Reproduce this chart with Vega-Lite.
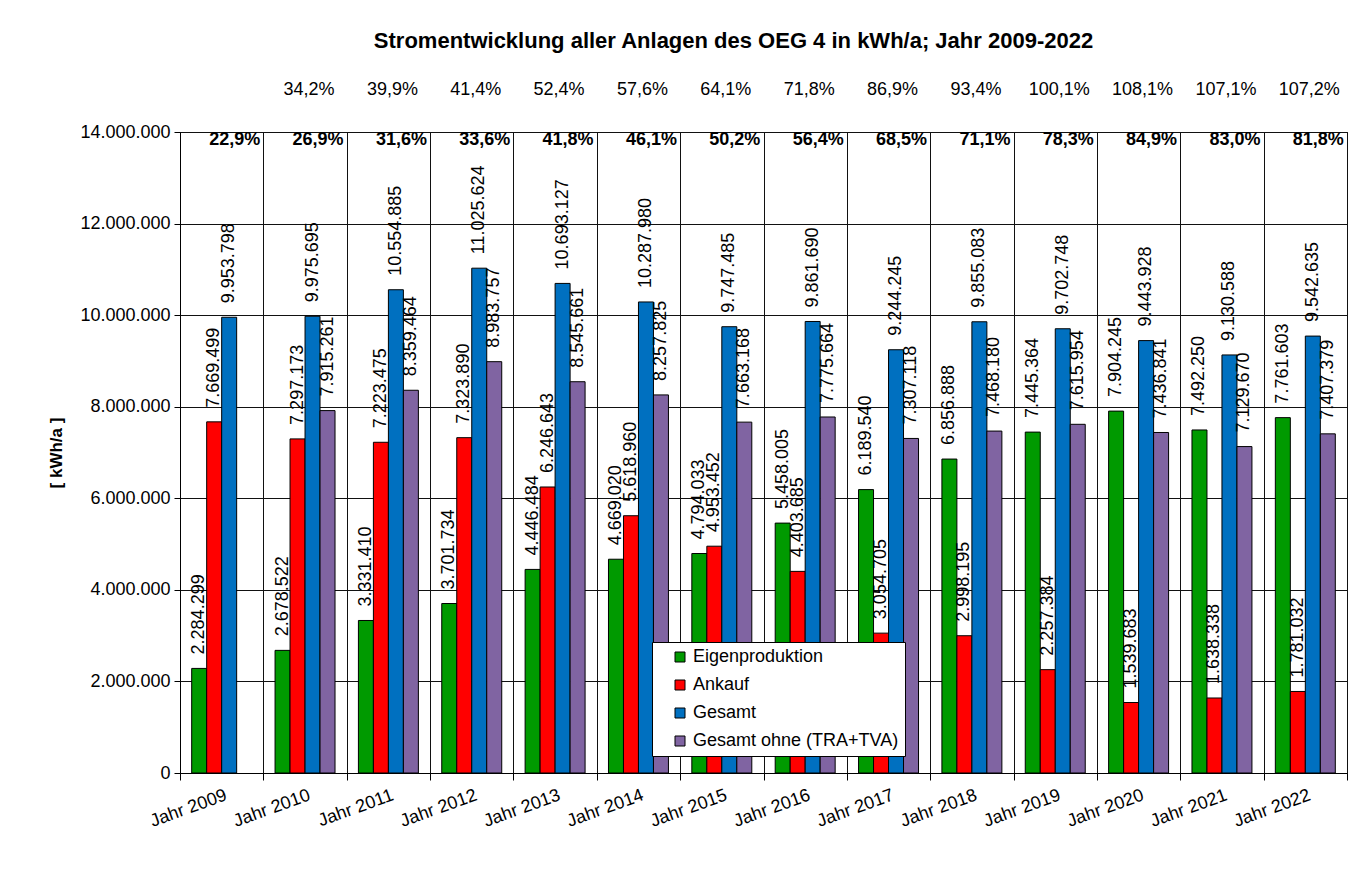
{
  "$schema": "https://vega.github.io/schema/vega-lite/v6.json",
  "width": 1167,
  "height": 641,
  "autosize": {"type": "none"},
  "padding": {"left": 180, "top": 132, "right": 24, "bottom": 113},
  "background": "white",
  "title": {
    "text": "Stromentwicklung aller Anlagen des OEG 4 in kWh/a; Jahr 2009-2022",
    "fontSize": 22,
    "fontWeight": "bold",
    "font": "Liberation Sans",
    "color": "black",
    "anchor": "middle",
    "dx": -30,
    "offset": 28
  },
  "config": {
    "locale": {"number": {"decimal": ",", "thousands": ".", "grouping": [3], "currency": ["", " €"]}},
    "font": "Liberation Sans",
    "view": {"stroke": "black", "strokeWidth": 1, "fill": "white"},
    "axis": {"labelColor": "black", "titleColor": "black", "domainColor": "black", "tickColor": "black", "gridColor": "#111", "gridWidth": 1, "labelFont": "Liberation Sans", "titleFont": "Liberation Sans"},
    "legend": {
      "orient": "none",
      "legendX": 472,
      "legendY": 510,
      "direction": "vertical",
      "strokeColor": "black",
      "fillColor": "white",
      "padding": 6,
      "symbolOffset": 13,
      "symbolType": "square",
      "symbolSize": 100,
      "symbolStrokeColor": "black",
      "symbolStrokeWidth": 1,
      "symbolOpacity": 1,
      "labelFontSize": 18,
      "labelColor": "black",
      "labelFont": "Liberation Sans",
      "rowPadding": 10,
      "labelLimit": 400,
      "labelOffset": 4
    }
  },
  "datasets": {
    "main": [
      {"year": "Jahr 2009", "series": "Eigenproduktion", "value": 2284299},
      {"year": "Jahr 2009", "series": "Ankauf", "value": 7669499},
      {"year": "Jahr 2009", "series": "Gesamt", "value": 9953798},
      {"year": "Jahr 2010", "series": "Eigenproduktion", "value": 2678522},
      {"year": "Jahr 2010", "series": "Ankauf", "value": 7297173},
      {"year": "Jahr 2010", "series": "Gesamt", "value": 9975695},
      {"year": "Jahr 2010", "series": "Gesamt ohne (TRA+TVA)", "value": 7915261},
      {"year": "Jahr 2011", "series": "Eigenproduktion", "value": 3331410},
      {"year": "Jahr 2011", "series": "Ankauf", "value": 7223475},
      {"year": "Jahr 2011", "series": "Gesamt", "value": 10554885},
      {"year": "Jahr 2011", "series": "Gesamt ohne (TRA+TVA)", "value": 8359464},
      {"year": "Jahr 2012", "series": "Eigenproduktion", "value": 3701734},
      {"year": "Jahr 2012", "series": "Ankauf", "value": 7323890},
      {"year": "Jahr 2012", "series": "Gesamt", "value": 11025624},
      {"year": "Jahr 2012", "series": "Gesamt ohne (TRA+TVA)", "value": 8983757},
      {"year": "Jahr 2013", "series": "Eigenproduktion", "value": 4446484},
      {"year": "Jahr 2013", "series": "Ankauf", "value": 6246643},
      {"year": "Jahr 2013", "series": "Gesamt", "value": 10693127},
      {"year": "Jahr 2013", "series": "Gesamt ohne (TRA+TVA)", "value": 8545661},
      {"year": "Jahr 2014", "series": "Eigenproduktion", "value": 4669020},
      {"year": "Jahr 2014", "series": "Ankauf", "value": 5618960},
      {"year": "Jahr 2014", "series": "Gesamt", "value": 10287980},
      {"year": "Jahr 2014", "series": "Gesamt ohne (TRA+TVA)", "value": 8257825},
      {"year": "Jahr 2015", "series": "Eigenproduktion", "value": 4794033},
      {"year": "Jahr 2015", "series": "Ankauf", "value": 4953452},
      {"year": "Jahr 2015", "series": "Gesamt", "value": 9747485},
      {"year": "Jahr 2015", "series": "Gesamt ohne (TRA+TVA)", "value": 7663168},
      {"year": "Jahr 2016", "series": "Eigenproduktion", "value": 5458005},
      {"year": "Jahr 2016", "series": "Ankauf", "value": 4403685},
      {"year": "Jahr 2016", "series": "Gesamt", "value": 9861690},
      {"year": "Jahr 2016", "series": "Gesamt ohne (TRA+TVA)", "value": 7775664},
      {"year": "Jahr 2017", "series": "Eigenproduktion", "value": 6189540},
      {"year": "Jahr 2017", "series": "Ankauf", "value": 3054705},
      {"year": "Jahr 2017", "series": "Gesamt", "value": 9244245},
      {"year": "Jahr 2017", "series": "Gesamt ohne (TRA+TVA)", "value": 7307118},
      {"year": "Jahr 2018", "series": "Eigenproduktion", "value": 6856888},
      {"year": "Jahr 2018", "series": "Ankauf", "value": 2998195},
      {"year": "Jahr 2018", "series": "Gesamt", "value": 9855083},
      {"year": "Jahr 2018", "series": "Gesamt ohne (TRA+TVA)", "value": 7468180},
      {"year": "Jahr 2019", "series": "Eigenproduktion", "value": 7445364},
      {"year": "Jahr 2019", "series": "Ankauf", "value": 2257384},
      {"year": "Jahr 2019", "series": "Gesamt", "value": 9702748},
      {"year": "Jahr 2019", "series": "Gesamt ohne (TRA+TVA)", "value": 7615954},
      {"year": "Jahr 2020", "series": "Eigenproduktion", "value": 7904245},
      {"year": "Jahr 2020", "series": "Ankauf", "value": 1539683},
      {"year": "Jahr 2020", "series": "Gesamt", "value": 9443928},
      {"year": "Jahr 2020", "series": "Gesamt ohne (TRA+TVA)", "value": 7436841},
      {"year": "Jahr 2021", "series": "Eigenproduktion", "value": 7492250},
      {"year": "Jahr 2021", "series": "Ankauf", "value": 1638338},
      {"year": "Jahr 2021", "series": "Gesamt", "value": 9130588},
      {"year": "Jahr 2021", "series": "Gesamt ohne (TRA+TVA)", "value": 7129670},
      {"year": "Jahr 2022", "series": "Eigenproduktion", "value": 7761603},
      {"year": "Jahr 2022", "series": "Ankauf", "value": 1781032},
      {"year": "Jahr 2022", "series": "Gesamt", "value": 9542635},
      {"year": "Jahr 2022", "series": "Gesamt ohne (TRA+TVA)", "value": 7407379}
    ],
    "pct": [
      {"year": "Jahr 2009", "inner": 0.229},
      {"year": "Jahr 2010", "inner": 0.269, "outer": 0.342},
      {"year": "Jahr 2011", "inner": 0.316, "outer": 0.399},
      {"year": "Jahr 2012", "inner": 0.336, "outer": 0.414},
      {"year": "Jahr 2013", "inner": 0.418, "outer": 0.524},
      {"year": "Jahr 2014", "inner": 0.461, "outer": 0.576},
      {"year": "Jahr 2015", "inner": 0.502, "outer": 0.641},
      {"year": "Jahr 2016", "inner": 0.564, "outer": 0.718},
      {"year": "Jahr 2017", "inner": 0.685, "outer": 0.869},
      {"year": "Jahr 2018", "inner": 0.711, "outer": 0.934},
      {"year": "Jahr 2019", "inner": 0.783, "outer": 1.001},
      {"year": "Jahr 2020", "inner": 0.849, "outer": 1.081},
      {"year": "Jahr 2021", "inner": 0.830, "outer": 1.071},
      {"year": "Jahr 2022", "inner": 0.818, "outer": 1.072}
    ]
  },
  "encoding": {
    "x": {
      "field": "year",
      "type": "nominal",
      "title": null,
      "scale": {"paddingInner": 0, "paddingOuter": 0},
      "axis": {
        "tickBand": "extent",
        "grid": true,
        "labelAngle": -20,
        "labelAlign": "right",
        "labelBaseline": "top",
        "labelFontSize": 18,
        "labelPadding": 6,
        "tickSize": 7,
        "labelOffset": 1
      }
    }
  },
  "layer": [
    {
      "data": {"name": "main"},
      "mark": {"type": "bar", "stroke": "black", "strokeWidth": 1},
      "encoding": {
        "xOffset": {
          "field": "series",
          "type": "nominal",
          "sort": ["Eigenproduktion", "Ankauf", "Gesamt", "Gesamt ohne (TRA+TVA)"],
          "scale": {"paddingOuter": 0.78, "paddingInner": 0}
        },
        "y": {
          "field": "value",
          "type": "quantitative",
          "title": "[ kWh/a ]",
          "scale": {"domain": [0, 14000000], "nice": false},
          "axis": {
            "values": [0, 2000000, 4000000, 6000000, 8000000, 10000000, 12000000, 14000000],
            "format": ",d",
            "labelFontSize": 18,
            "labelPadding": 4,
            "tickSize": 6,
            "grid": true,
            "titleFontSize": 17,
            "titleFontWeight": "bold",
            "titlePadding": 14
          }
        },
        "color": {
          "field": "series",
          "type": "nominal",
          "title": null,
          "scale": {
            "domain": ["Eigenproduktion", "Ankauf", "Gesamt", "Gesamt ohne (TRA+TVA)"],
            "range": ["#009a00", "#ff0000", "#0070c0", "#8064a2"]
          }
        }
      }
    },
    {
      "data": {"name": "main"},
      "mark": {"type": "text", "angle": 270, "align": "left", "baseline": "middle", "dx": 14, "fontSize": 18, "color": "black"},
      "encoding": {
        "xOffset": {
          "field": "series",
          "type": "nominal",
          "sort": ["Eigenproduktion", "Ankauf", "Gesamt", "Gesamt ohne (TRA+TVA)"]
        },
        "y": {"field": "value", "type": "quantitative"},
        "text": {"field": "value", "type": "quantitative", "format": ",d"}
      }
    },
    {
      "data": {"name": "pct"},
      "mark": {"type": "text", "baseline": "middle", "align": "center", "dy": 8, "dx": 13, "fontSize": 18, "fontWeight": "bold", "color": "black"},
      "encoding": {
        "y": {"datum": 14000000, "type": "quantitative"},
        "text": {"field": "inner", "type": "quantitative", "format": ".1%"}
      }
    },
    {
      "data": {"name": "pct"},
      "transform": [{"filter": "isValid(datum.outer)"}],
      "mark": {"type": "text", "baseline": "middle", "align": "center", "dy": -42, "dx": 4, "fontSize": 18, "color": "black"},
      "encoding": {
        "y": {"datum": 14000000, "type": "quantitative"},
        "text": {"field": "outer", "type": "quantitative", "format": ".1%"}
      }
    }
  ]
}
